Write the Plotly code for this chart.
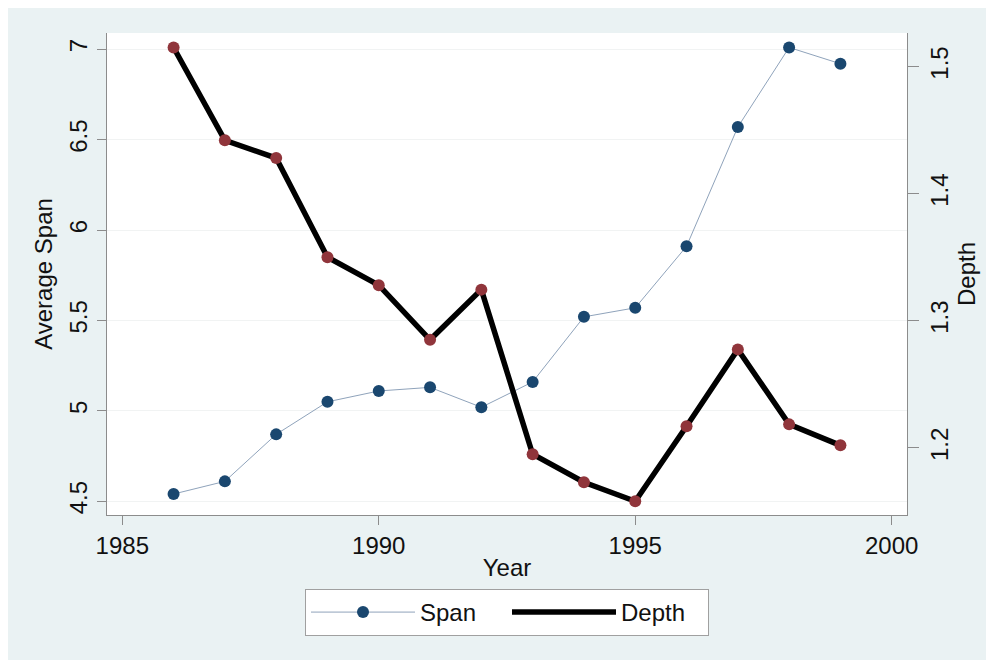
import plotly.graph_objects as go

years = [1986, 1987, 1988, 1989, 1990, 1991, 1992, 1993, 1994, 1995, 1996, 1997, 1998, 1999]
span = [4.54, 4.61, 4.87, 5.05, 5.11, 5.13, 5.02, 5.16, 5.52, 5.57, 5.91, 6.57, 7.01, 6.92]
depth = [1.515, 1.442, 1.428, 1.350, 1.328, 1.285, 1.3245, 1.195, 1.173, 1.158, 1.217, 1.2775, 1.2185, 1.202]

x_ticks = [1985, 1990, 1995, 2000]
y_ticks = [4.5, 5, 5.5, 6, 6.5, 7]
y_tick_text = ["4.5", "5", "5.5", "6", "6.5", "7"]
y2_ticks = [1.2, 1.3, 1.4, 1.5]

FONT = "Liberation Sans, Arial, Helvetica, sans-serif"
AXIS_COL = "#8c8c8c"
BG = "#EAF2F3"

fig = go.Figure()
fig.add_trace(go.Scatter(
    x=years, y=span, name="Span", mode="lines+markers",
    line=dict(color="#8FA3BB", width=1),
    marker=dict(color="#1A476F", size=12),
    yaxis="y",
))
fig.add_trace(go.Scatter(
    x=years, y=depth, name="Depth", mode="lines",
    line=dict(color="#000000", width=5.5),
    yaxis="y2",
))
fig.add_trace(go.Scatter(
    x=years, y=depth, name="Depth", mode="markers",
    marker=dict(color="#90353B", size=12),
    yaxis="y2", showlegend=False,
))

fig.update_layout(
    width=994, height=660,
    margin=dict(l=99, r=95, t=25, b=153),
    paper_bgcolor=BG,
    plot_bgcolor="white",
    font=dict(family=FONT, size=24, color="#111111"),
    showlegend=True,
    legend=dict(
        orientation="h", x=0.5, xanchor="center", y=-0.1535, yanchor="top",
        bgcolor="white", bordercolor="#a0a0a0", borderwidth=1,
        font=dict(size=24), itemwidth=104, entrywidth=82, entrywidthmode="pixels",
    ),
    xaxis=dict(
        range=[1984.702, 2000.298], tickvals=x_ticks,
        showline=True, linecolor=AXIS_COL, linewidth=1,
        ticks="outside", ticklen=9, tickcolor=AXIS_COL,
        showgrid=False, zeroline=False,
        title=dict(text="Year", standoff=1, font=dict(size=24)),
    ),
    yaxis=dict(
        range=[4.424, 7.090], tickvals=y_ticks, ticktext=y_tick_text,
        tickangle=-90,
        showline=True, linecolor=AXIS_COL, linewidth=1,
        ticks="outside", ticklen=9, tickcolor=AXIS_COL,
        showgrid=True, gridcolor="#f1f3f3", gridwidth=1, zeroline=False,
        title=dict(text="Average Span", standoff=6, font=dict(size=24)),
    ),
    yaxis2=dict(
        range=[1.1472, 1.5264], tickvals=y2_ticks,
        tickangle=-90, overlaying="y", side="right",
        showline=True, linecolor=AXIS_COL, linewidth=1,
        ticks="outside", ticklen=11, tickcolor=AXIS_COL,
        showgrid=False, zeroline=False,
        title=dict(text="Depth", standoff=6, font=dict(size=24)),
    ),
)

fig.write_html("out.html")
